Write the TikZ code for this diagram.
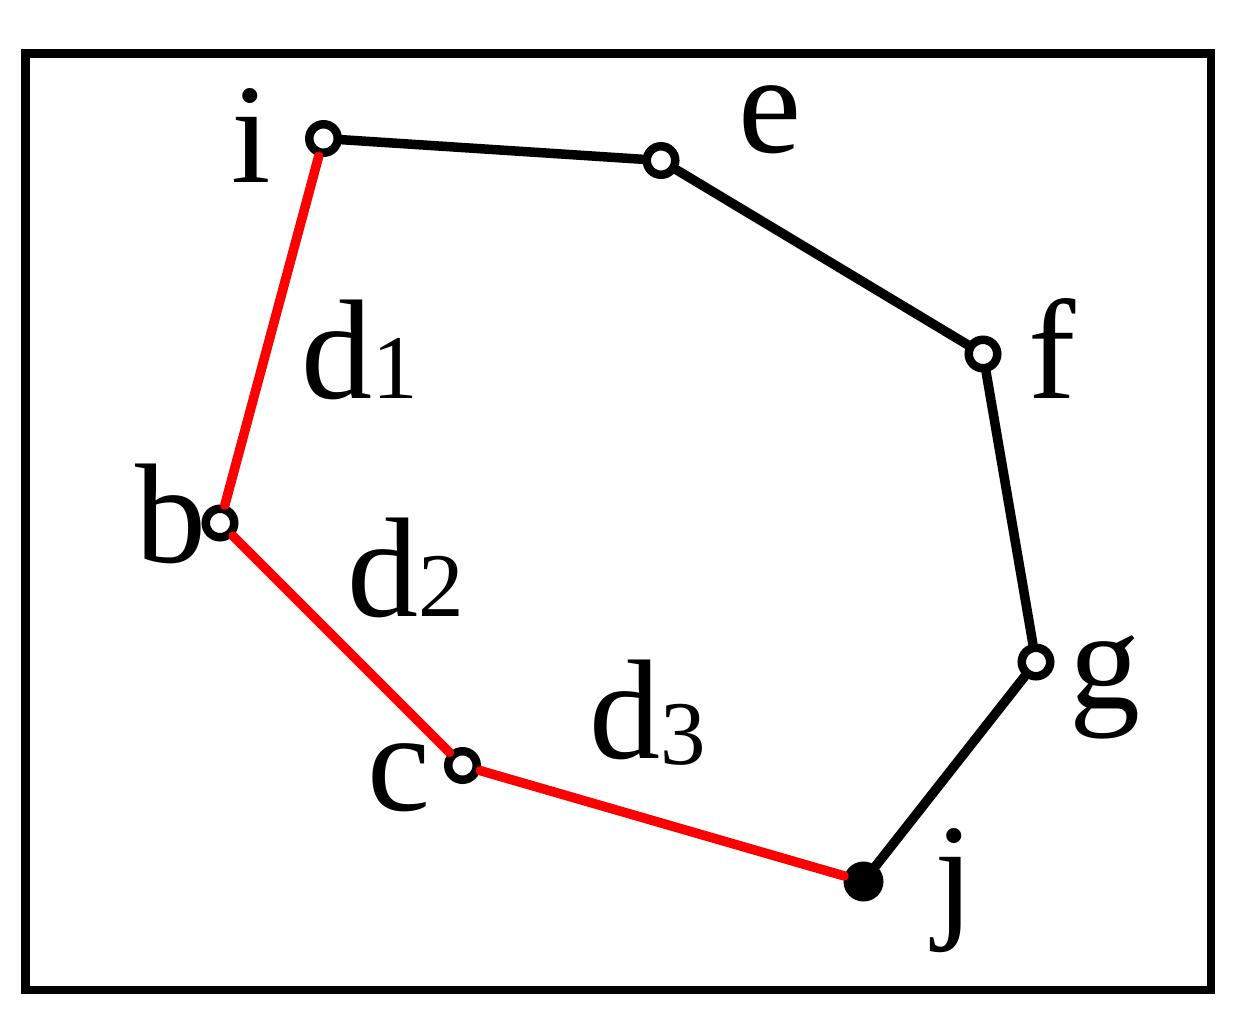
\documentclass[tikz,border=0pt]{standalone}
\usepackage{fontspec}
\setmainfont{Liberation Serif}
\newcommand{\bigtxt}{\fontsize{142}{150}\selectfont}
\newcommand{\subtxt}{\fontsize{91}{95}\selectfont}
\begin{document}
\begin{tikzpicture}[x=1pt,y=-1pt,
  vtx/.style={circle,draw=black,fill=white,line width=8.5pt,minimum size=28.5pt,inner sep=0pt},
  vtxfull/.style={circle,fill=black,minimum size=40pt,inner sep=0pt},
  lbl/.style={anchor=base west,inner sep=0pt,outer sep=0pt,font=\bigtxt},
  blk/.style={draw=black,line width=9.5pt,line cap=round},
  redl/.style={draw=red,line width=9.5pt,line cap=round}]
\useasboundingbox (0,0) rectangle (1240,1017);
\draw[line width=8.5pt] (25.5,53.5) rectangle (1211,990);
% vertices
\node[vtx] (i) at (323.5,138.5) {};
\node[vtx] (e) at (661,160.5) {};
\node[vtx] (f) at (983,354) {};
\node[vtx] (g) at (1036,662) {};
\node[vtxfull] (j) at (863.5,881.5) {};
\node[vtx] (c) at (462.5,765.5) {};
\node[vtx] (b) at (220,523) {};
% edges
\draw[blk] (i) -- (e);
\draw[blk] (e) -- (f);
\draw[blk] (f) -- (g);
\draw[blk] (g) -- (j);
\draw[redl] (i) -- (b);
\draw[redl] (b) -- (c);
\draw[redl] (c) -- (j);
% labels
\node[lbl] (li) at (231,182) {i};
\node[lbl] (le) at (738,152) {e};
\node[lbl] (lf) at (1028,398) {f};
\node[lbl] (lg) at (1069,708) {g};
\node[lbl] (lj) at (934,922) {j};
\node[lbl] (lc) at (367,810) {c};
\node[lbl] (lb) at (135,562) {b};
\node[lbl] (d1) at (301,398) {d{\subtxt 1}};
\node[lbl] (d2) at (347,616) {d{\subtxt 2}};
\node[lbl] (d3) at (589,758) {d{\subtxt\raisebox{-6pt}{3}}};
\end{tikzpicture}
\end{document}
